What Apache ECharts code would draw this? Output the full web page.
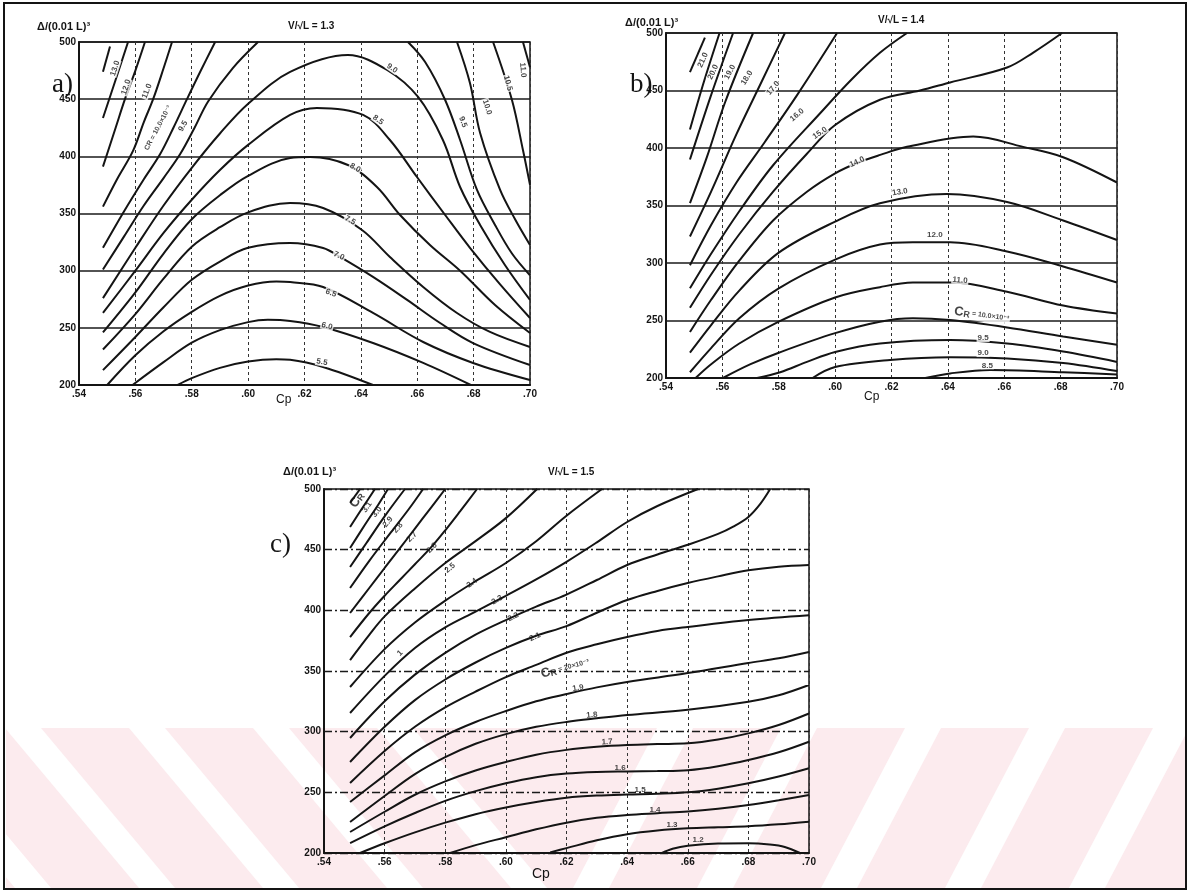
<!DOCTYPE html>
<html><head><meta charset="utf-8">
<script src="https://cdn.jsdelivr.net/npm/echarts@6/dist/echarts.min.js"></script>
<style>html,body{margin:0;padding:0;background:#fff}#c{width:1190px;height:893px}</style>
</head><body><div id="c"></div>
<script>
// ---------- axis ranges / ticks ----------
const CP_MIN = 0.54, CP_MAX = 0.70, CP_STEP = 0.02;
const D_MIN = 200, D_MAX = 500, D_STEP = 50;

// ---------- panel a) V/sqrt(L)=1.3 : [Cp, displacement] ----------
const a_13_0 = [[.5485,474],[.5510,496]];
const a_12_0 = [[.5485,433.5],[.5530,467],[.5574,500]];
const a_11_0 = [[.5485,391],[.5530,425],[.5563,450],[.5600,475],[.5634,500]];
const a_10_0 = [[.5485,356],[.5535,380],[.5592,405],[.5630,430],[.5663,450],[.5700,477],[.5730,500]];
const a_9_5L = [[.5485,320],[.556,352],[.563,380],[.5688,402],[.5735,425],[.5783,450],[.5830,474],[.5883,500]];
const a_9_xL = [[.5485,301],[.556,330],[.563,357],[.570,381],[.5759,402],[.5810,425],[.5858,448],[.5945,477],[.6035,500]];
const a_9_0 = [[.5485,276],[.56,320],[.57,357],[.58,390],[.59,420],[.60,446],[.6149,473.8],[.6354,488.6],[.6493,475.5],[.6603,451.9],[.6691,414.3],[.6752,373.2],[.6823,340],[.6911,305],[.70,274.4]];
const a_8_5 = [[.5485,263],[.56,300],[.57,333],[.58,362],[.59,388],[.60,410],[.6149,436.2],[.6244,442.3],[.6408,436.2],[.6503,414.3],[.6599,381.9],[.6699,348.7],[.6787,320],[.6894,288],[.70,258.6]];
const a_8_0 = [[.5485,246],[.56,281],[.57,315],[.58,345],[.59,366],[.60,383],[.6149,398.5],[.622,399.4],[.6354,392.4],[.6457,373.2],[.6539,348.7],[.6645,322.5],[.6752,300],[.6876,270],[.70,245.5]];
const a_7_5 = [[.5485,231],[.56,262],[.57,293],[.58,321],[.59,338],[.60,351],[.6149,359.2],[.6266,354.8],[.6404,335.6],[.6503,312],[.6621,285.8],[.6741,263],[.6858,246.4],[.70,233.3]];
const a_7_0 = [[.5485,213],[.56,242],[.57,268],[.58,292],[.59,308],[.60,320],[.6149,324.2],[.6266,319.8],[.6326,312],[.6443,294.5],[.6564,274.4],[.6681,254.2],[.6798,236.7],[.70,217.5]];
const a_6_5 = [[.550,200],[.56,226],[.57,247],[.58,264],[.59,278],[.60,287],[.61,290.5],[.6149,290],[.6266,285.7],[.6443,263],[.6621,237.6],[.6798,219.3],[.70,204.4]];
const a_6_0 = [[.559,200],[.57,220],[.58,237],[.59,248],[.60,255],[.607,257],[.6149,256],[.6266,250.7],[.6443,236.7],[.6621,219.3],[.679,200]];
const a_5_5 = [[.575,200],[.58,206],[.59,215],[.60,220.5],[.61,222.5],[.6149,222],[.6266,215.8],[.6443,200]];
const a_9_5R = [[.6567,500],[.6628,482.5],[.6699,449.3],[.6752,414.3],[.6812,370.6],[.6876,340],[.6936,315],[.70,296]];
const a_10_0R = [[.6741,500],[.6787,464.1],[.6823,420.4],[.6894,370.6],[.6947,345],[.70,322.5]];
const a_10_5R = [[.6869,500],[.6936,449.3],[.6975,405.5],[.70,375]];
const a_11_0R = [[.6975,500],[.70,478]];
const a_labels = [
  ['13.0',.5528,477,72],['12.0',.5567,460.6,72],['11.0',.5641,457,68],
  ['{s|CR = 10.0×10⁻³}',.568,424.8,62],['9.5',.5769,426.5,60],
  ['9.0',.6511,477,-35],['8.5',.6461,431.8,-35],['8.0',.638,390,-30],['7.5',.6362,344,-30],
  ['7.0',.6322,313,-25],['6.5',.6294,280.5,-20],['6.0',.628,251.6,-15],['5.5',.6262,220,-10],
  ['9.5',.6762,430,-70],['10.0',.6848,443,-72],['10.5',.6922,464,-75],['11.0',.6975,475.5,-85]
];

// ---------- panel b) V/sqrt(L)=1.4 ----------
const b_21_0 = [[.5485,466],[.5538,496]];
const b_20_0 = [[.5485,416],[.5535,458],[.559,500]];
const b_19_0 = [[.5485,390],[.556,446],[.5638,500]];
const b_18_0 = [[.5485,352],[.5545,392],[.561,440],[.5709,500]];
const b_17_0 = [[.5485,323],[.556,362],[.565,412],[.574,458],[.5822,500]];
const b_16_0 = [[.5485,298],[.556,333],[.565,370],[.575,405],[.5865,446],[.6007,500]];
const b_15_0 = [[.5485,278],[.556,308],[.566,345],[.578,385],[.5946,430],[.606,460],[.616,483],[.6255,500]];
const b_14_x = [[.5485,261],[.556,290],[.566,325],[.578,362],[.59,395],[.60,420],[.6159,442],[.6301,450],[.6408,457],[.661,470],[.6703,483],[.6805,500]];
const b_14_0 = [[.5485,240],[.556,268],[.566,302],[.578,337],[.59,362],[.60,378],[.6078,387],[.616,394],[.6255,401],[.649,410],[.6667,401],[.6809,392],[.70,370]];
const b_13_0 = [[.5485,222],[.556,246],[.566,276],[.58,309],[.60,336],[.6159,352],[.6396,360],[.661,353],[.6809,337],[.70,320]];
const b_12_0 = [[.5485,205],[.556,226],[.566,252],[.58,278],[.60,303],[.6159,316],[.6276,318],[.6408,318],[.661,310],[.6809,297],[.70,283]];
const b_11_0 = [[.5505,200],[.556,212],[.566,230],[.58,249],[.60,270],[.6159,279],[.6276,283],[.6418,283],[.661,275],[.6809,263],[.70,256]];
const b_10_0 = [[.5602,200],[.57,212],[.58,222],[.60,239],[.6159,249],[.6276,252],[.6408,250.4],[.661,244],[.6809,236],[.70,229]];
const b_9_5 = [[.5723,200],[.5805,205],[.59,214],[.60,222.6],[.6159,230],[.6408,233],[.661,230],[.6809,223],[.70,214]];
const b_9_0 = [[.592,200],[.60,209.5],[.6195,215.6],[.6408,218],[.661,217],[.6809,213],[.70,206]];
const b_8_5 = [[.632,200],[.6408,204],[.655,207],[.6809,205],[.70,203]];
const b_labels = [
  ['21.0',.5531,476.5,65],['20.0',.5567,466,65],['19.0',.5627,466,62],['18.0',.5687,461,58],
  ['17.0',.578,452,50],['16.0',.5865,428.7,40],['15.0',.5946,413,35],['14.0',.6078,387.8,25],
  ['13.0',.623,361.7,8],['12.0',.6354,324.3,0],['11.0',.6443,285,-5],
  ['{c|C}{r|R}{s| = 10.0×10⁻³}',.652,254.8,-8],['9.5',.6525,234.8,0],['9.0',.6525,221.7,0],['8.5',.654,211,0]
];

// ---------- panel c) V/sqrt(L)=1.5 ----------
const c_3_2 = [[.5486,488.5],[.5519,500]];
const c_3_1 = [[.5486,468.7],[.5527,484.5],[.5568,500]];
const c_3_0 = [[.5486,451.4],[.5535,470.5],[.5580,487.5],[.5611,500]];
const c_2_9 = [[.5486,435.7],[.5540,455.5],[.5600,477.5],[.5667,500]];
const c_2_8 = [[.5486,418.4],[.555,441],[.562,464],[.568,483.5],[.5727,500]];
const c_2_7 = [[.5486,397.8],[.555,418.6],[.56,434.9],[.565,451],[.57,467.4],[.575,483.7],[.58,500]];
const c_2_6 = [[.5486,378],[.555,398],[.56,412],[.565,425],[.57,438],[.575,451],[.58,466],[.585,482],[.5905,500]];
const c_2_5 = [[.5486,359],[.555,380],[.56,395],[.57,418],[.58,439],[.59,457],[.60,476],[.6103,500]];
const c_2_4 = [[.5486,336.8],[.56,368],[.57,390],[.58,408],[.59,424],[.60,439],[.61,457],[.62,478],[.6317,500]];
const c_2_3 = [[.5486,315.4],[.56,346],[.57,369],[.58,386],[.59,399],[.60,412],[.61,425.5],[.62,440],[.63,456],[.64,472.8],[.65,486],[.6634,500]];
const c_2_2 = [[.5486,294.8],[.56,325],[.57,347],[.58,365],[.59,380],[.60,392],[.61,403],[.62,413],[.63,425],[.64,437.4],[.65,446],[.66,454],[.67,463],[.675,469],[.68,477],[.684,488],[.6872,500]];
const c_2_1 = [[.5486,275],[.56,304],[.57,326],[.58,343],[.59,357],[.60,369],[.61,379],[.62,387],[.63,398],[.64,408.5],[.65,416],[.66,422.5],[.67,428],[.68,433],[.69,436],[.70,437.4]];
const c_2_0 = [[.5486,257.7],[.56,284],[.57,304],[.58,320],[.59,333],[.60,345],[.61,355],[.62,365],[.63,372],[.64,378],[.65,383],[.66,386.3],[.68,392],[.70,396]];
const c_1_9 = [[.5486,242],[.56,264],[.57,283],[.58,297],[.59,308],[.60,317],[.61,325],[.62,331],[.63,336.5],[.64,341],[.66,348.3],[.68,356.6],[.69,360.5],[.70,365.7]];
const c_1_8 = [[.5486,225.6],[.56,247],[.57,265],[.58,279],[.59,290],[.60,298],[.61,304],[.62,308],[.63,311],[.64,313.7],[.66,318],[.68,324.7],[.69,330],[.70,338.5]];
const c_1_7 = [[.5486,217.3],[.56,234],[.57,248],[.58,259],[.59,268],[.60,275],[.61,281],[.62,285],[.63,287.5],[.64,289],[.65,289.8],[.66,290.4],[.67,293.5],[.68,298.6],[.69,305.5],[.70,315]];
const c_1_6 = [[.5486,208.2],[.56,222],[.57,233],[.58,243],[.59,251],[.60,257.5],[.61,262.5],[.62,265.5],[.63,266.8],[.64,267.2],[.65,267.5],[.66,268.2],[.67,271.5],[.68,276.6],[.69,283],[.70,291.7]];
const c_1_5 = [[.5519,200],[.56,208],[.57,217],[.58,225],[.59,232],[.60,237.5],[.61,242],[.62,245.5],[.63,247.3],[.64,248.2],[.65,248.8],[.66,250],[.67,253],[.68,257.4],[.69,263],[.70,269.8]];
const c_1_4 = [[.5816,200],[.59,206.5],[.60,213],[.61,219.5],[.62,225],[.63,229],[.64,231.3],[.65,232.8],[.66,234.2],[.67,236.5],[.68,239.6],[.69,243.5],[.70,247.8]];
const c_1_3 = [[.6146,200.5],[.62,204],[.63,210.5],[.64,215.5],[.65,218.5],[.66,220.3],[.67,221.2],[.68,222],[.69,223.6],[.70,225.8]];
const c_1_2 = [[.6515,200],[.655,203.5],[.66,206],[.67,207.8],[.68,208],[.687,207],[.692,205],[.697,200]];
const c_labels = [
  ['{c|C}{r|R}',.5509,490.9,55],['3.1',.5542,485,55],['3.0',.5575,481,52],['2.9',.5611,472.8,50],
  ['2.8',.5644,467.9,50],['2.7',.569,460.4,45],['2.6',.5756,451.4,45],['2.5',.5816,434.9,40],
  ['2.4',.5888,422.5,35],['2.3',.5971,408.5,30],['2.2',.6024,394.5,28],['2.1',.6096,378,25],
  ['{c|C}{r|R}{s| = 20×10⁻³}',.6195,352.5,15],['1.9',.6238,336,8],['1.8',.6284,313.7,5],['1.7',.6334,291.5,3],
  ['1.6',.6377,270,0],['1.5',.6443,252,0],['1.4',.6492,235.4,0],['1.3',.6548,223,0],['1.2',.6634,210.7,0],
  ['1',.5651,364.8,45]
];

const PANEL_A = [['13.0',a_13_0],['12.0',a_12_0],['11.0',a_11_0],['10.0',a_10_0],['9.5',a_9_5L],['9.x',a_9_xL],
  ['9.0',a_9_0],['8.5',a_8_5],['8.0',a_8_0],['7.5',a_7_5],['7.0',a_7_0],['6.5',a_6_5],['6.0',a_6_0],['5.5',a_5_5],
  ['9.5 R',a_9_5R],['10.0 R',a_10_0R],['10.5 R',a_10_5R],['11.0 R',a_11_0R]];
const PANEL_B = [['21.0',b_21_0],['20.0',b_20_0],['19.0',b_19_0],['18.0',b_18_0],['17.0',b_17_0],['16.0',b_16_0],
  ['15.0',b_15_0],['14.x',b_14_x],['14.0',b_14_0],['13.0',b_13_0],['12.0',b_12_0],['11.0',b_11_0],['10.0',b_10_0],
  ['9.5',b_9_5],['9.0',b_9_0],['8.5',b_8_5]];
const PANEL_C = [['3.2',c_3_2],['3.1',c_3_1],['3.0',c_3_0],['2.9',c_2_9],['2.8',c_2_8],['2.7',c_2_7],['2.6',c_2_6],
  ['2.5',c_2_5],['2.4',c_2_4],['2.3',c_2_3],['2.2',c_2_2],['2.1',c_2_1],['2.0',c_2_0],['1.9',c_1_9],['1.8',c_1_8],
  ['1.7',c_1_7],['1.6',c_1_6],['1.5',c_1_5],['1.4',c_1_4],['1.3',c_1_3],['1.2',c_1_2]];

// ---------- layout ----------
const INK = '#141414';
const FONT = 'Liberation Sans, DejaVu Sans, sans-serif';
const GRIDS = [
  {left:79, top:42, width:451, height:343},
  {left:666, top:33, width:451, height:345},
  {left:324, top:489, width:485, height:364}
];

function xAx(i){
  return {type:'value', gridIndex:i, min:CP_MIN, max:CP_MAX, interval:CP_STEP,
    axisLine:{show:true, onZero:false, lineStyle:{color:INK, width:2}},
    axisTick:{show:false},
    axisLabel:{formatter:v=>'.'+Math.round(v*100), color:INK, fontSize:10, fontWeight:'bold', fontFamily:FONT, margin:4},
    splitLine:{show:true, lineStyle:{color:'#333', type:[3,3], width:1}}};
}
function yAx(i, dashed){
  return {type:'value', gridIndex:i, min:D_MIN, max:D_MAX, interval:D_STEP,
    axisLine:{show:true, onZero:false, lineStyle:{color:INK, width:2}},
    axisTick:{show:false},
    axisLabel:{color:INK, fontSize:10, fontWeight:'bold', fontFamily:FONT, margin:3},
    splitLine:{show:true, lineStyle:{color:'#1a1a1a', width: dashed ? 1.3 : 1.6, type: dashed ? [8,3,2,3] : 'solid'}}};
}
function lineSeries(i, list){
  return list.map(([name, data]) => ({name, type:'line', xAxisIndex:i, yAxisIndex:i, data,
    smooth:0.35, symbol:'none', showSymbol:false, silent:true, z:3, clip:true,
    lineStyle:{color:INK, width:2}}));
}
function labelSeries(i, list, bg){
  return {type:'scatter', xAxisIndex:i, yAxisIndex:i, symbolSize:0, silent:true, z:6,
    data:list.map(([t,x,y,r]) => ({value:[x,y], label:{formatter:t, rotate:r}})),
    label:{show:true, position:'inside', color:INK, fontSize:8, fontWeight:'bold', fontFamily:FONT,
      backgroundColor:bg, padding:[0,1],
      rich:{c:{fontSize:13, fontWeight:'bold', fontFamily:FONT, color:INK},
            r:{fontSize:9, fontWeight:'bold', fontFamily:FONT, color:INK, padding:[4,0,0,0]},
            s:{fontSize:7, fontWeight:'bold', fontFamily:FONT, color:INK}}}};
}
function txt(text, left, top, size, family, weight){
  return {text, left, top, textStyle:{fontSize:size, fontFamily:family||FONT, fontWeight:weight||'bold', color:INK}};
}

// faint pink chevron watermark in the lower part of the page (decoration)
const PINK = '#fcebee';
const watermark = [{type:'rect', shape:{x:6, y:728, width:1179, height:160}, style:{fill:PINK}, silent:true, z:-5}];
for (let k = 0; k < 6; k++) {
  const xb = 573 + k*124, xm = 547 - k*124;
  watermark.push({type:'polygon', shape:{points:[[xb,888],[xb+36,888],[xb+120,728],[xb+84,728]]}, style:{fill:'#fff'}, silent:true, z:-4});
  watermark.push({type:'polygon', shape:{points:[[xm,888],[xm-36,888],[xm-170,728],[xm-134,728]]}, style:{fill:'#fff'}, silent:true, z:-4});
}

const chart = echarts.init(document.getElementById('c'));
chart.setOption({
  animation:false,
  backgroundColor:'#fff',
  title:[
    txt('Δ/(0.01 L)³', 32, 16, 11), txt('V/√L = 1.3', 283, 16, 10),
    txt('Δ/(0.01 L)³', 620, 12, 11), txt('V/√L = 1.4', 873, 10, 10),
    txt('Δ/(0.01 L)³', 278, 461, 11), txt('V/√L = 1.5', 543, 462, 10),
    txt('Cp', 271, 389, 12, FONT, 'normal'), txt('Cp', 859, 386, 12, FONT, 'normal'), txt('Cp', 527, 862, 14, FONT, 'normal'),
    txt('a)', 47, 66, 27, 'Liberation Serif, serif', 'normal'),
    txt('b)', 625, 66, 27, 'Liberation Serif, serif', 'normal'),
    txt('c)', 265, 526, 27, 'Liberation Serif, serif', 'normal')
  ],
  grid: GRIDS.map(g => Object.assign({show:true, borderColor:INK, borderWidth:1.5, containLabel:false}, g)),
  xAxis:[xAx(0), xAx(1), xAx(2)],
  yAxis:[yAx(0,false), yAx(1,false), yAx(2,true)],
  graphic:watermark.concat([{type:'rect', shape:{x:4, y:3, width:1182, height:886}, style:{fill:'none', stroke:INK, lineWidth:2}, silent:true, z:-1}]),
  series:[].concat(lineSeries(0,PANEL_A), lineSeries(1,PANEL_B), lineSeries(2,PANEL_C),
    [labelSeries(0,a_labels,'#fff'), labelSeries(1,b_labels,'#fff'), labelSeries(2,c_labels,'transparent')])
});
</script></body></html>
